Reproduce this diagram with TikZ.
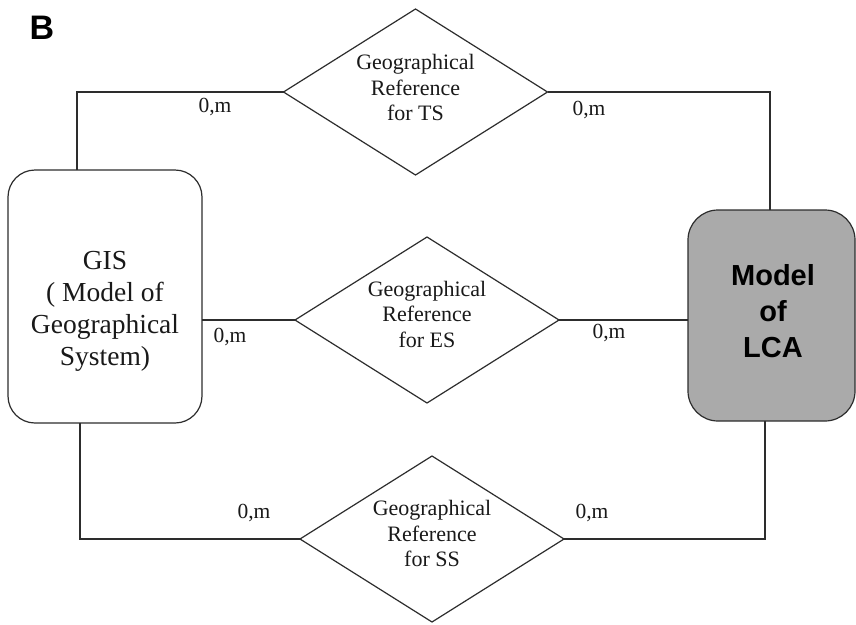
\documentclass[tikz,border=0pt]{standalone}
\usepackage{fontspec}
\setmainfont{Liberation Serif}
\newfontfamily\lsans{Liberation Sans}
\usetikzlibrary{shapes.geometric}
\definecolor{lcagray}{RGB}{170,170,170}
\definecolor{linec}{RGB}{45,45,45}
\begin{document}
\begin{tikzpicture}[x=1pt,y=-1pt,
  conn/.style={line width=1.2pt, draw=linec},
  relbox/.style={diamond, draw=linec, line width=1.2pt, aspect=1.6, inner sep=0pt, outer sep=0pt,
    minimum width=264pt, minimum height=166pt},
  reltext/.style={font=\fontsize{22}{25.5}\selectfont, align=center, inner sep=0pt, text=black!90},
  card/.style={font=\fontsize{21.5}{24}\selectfont, inner sep=0pt, text=black!90},
  gisbox/.style={draw=linec, line width=1.2pt, rounded corners=27pt, fill=white,
    minimum width=194pt, minimum height=253pt, inner sep=0pt, outer sep=0pt},
  gistext/.style={font=\fontsize{27.5}{32}\selectfont, align=center, inner sep=0pt, text=black!90},
  lcabox/.style={draw=linec, line width=1.2pt, rounded corners=30pt, fill=lcagray,
    minimum width=167pt, minimum height=211pt, inner sep=0pt, outer sep=0pt},
  lcatext/.style={font=\lsans\bfseries\fontsize{29}{36}\selectfont, align=center, inner sep=0pt},
  panel/.style={font=\lsans\bfseries\fontsize{34}{36}\selectfont, inner sep=0pt}]
\fill[white] (0,0) rectangle (856,624);
\useasboundingbox (0,0) rectangle (856,624);

\node[panel] (B) at (42,28) {B};

\node[gisbox] (gis) at (105,296.5) {};
\node[gistext] (gist) at (105,311) {GIS\\( Model of\\Geographical\\System)};

\node[lcabox] (lca) at (771.5,315.5) {};
\node[lcatext, text=black] (lcat) at (773,311) {Model\\of\\LCA};

\node[relbox] (ts) at (415.5,92) {};
\node[reltext] (tst) at (415.5,87.5) {Geographical\\Reference\\for TS};
\node[relbox] (es) at (427,320) {};
\node[reltext] (est) at (427,314) {Geographical\\Reference\\for ES};
\node[relbox] (ss) at (432,539) {};
\node[reltext] (sst) at (432,533.5) {Geographical\\Reference\\for SS};

\draw[conn] ([xshift=-28pt]gis.north) |- (ts.west);
\draw[conn] (ts.east) -| ([xshift=-1.5pt]lca.north);
\draw[conn] (gis.east |- es.west) -- (es.west);
\draw[conn] (es.east) -- (es.east -| lca.west);
\draw[conn] ([xshift=-25pt]gis.south) |- (ss.west);
\draw[conn] (ss.east) -| ([xshift=-6.5pt]lca.south);

\node[card] (c1) at (215,107) {0,m};
\node[card] (c2) at (589,110) {0,m};
\node[card] (c3) at (230,337) {0,m};
\node[card] (c4) at (609,333) {0,m};
\node[card] (c5) at (254,513) {0,m};
\node[card] (c6) at (592,513) {0,m};
\end{tikzpicture}
\end{document}
